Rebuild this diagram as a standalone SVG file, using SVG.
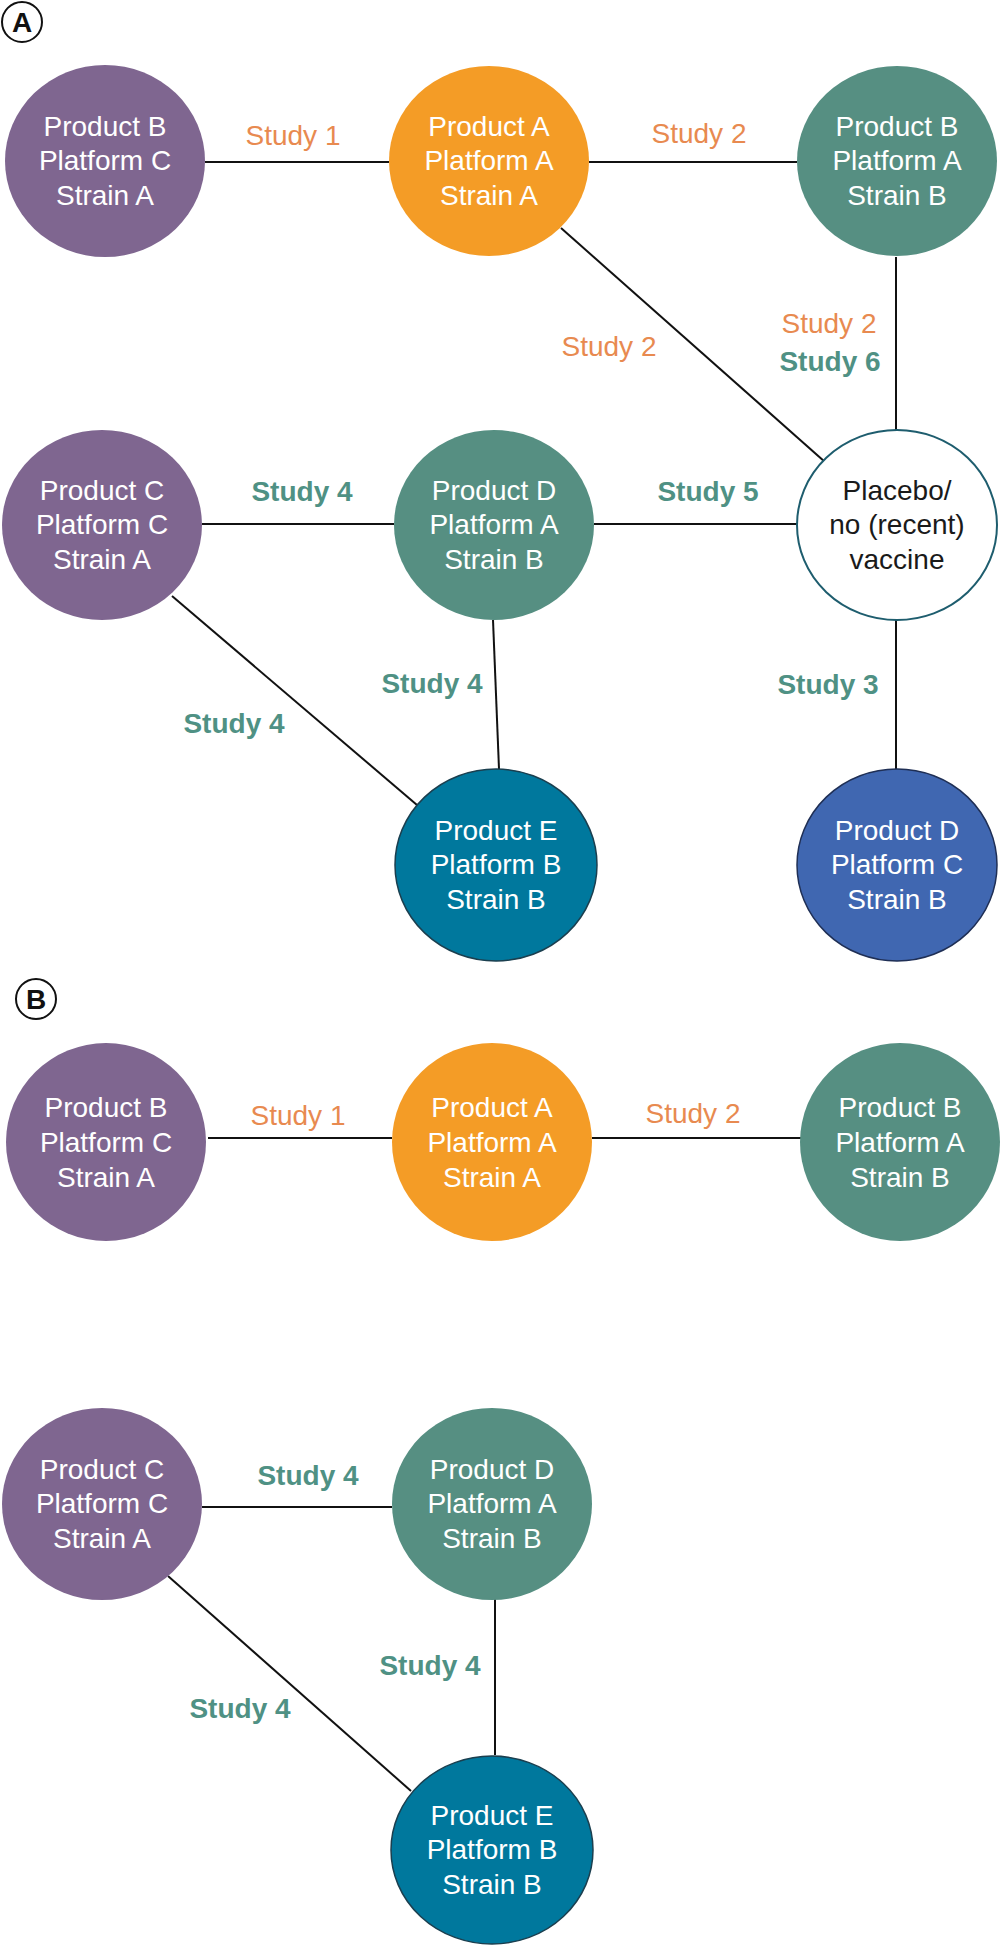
<svg xmlns="http://www.w3.org/2000/svg" width="1004" height="1945" viewBox="0 0 1004 1945">
<style>
.bg{fill:#ffffff}
.node text{font-family:"Liberation Sans",Arial,sans-serif;font-size:28px;fill:#ffffff;text-anchor:middle}
.purple{fill:#7f6690}
.orange{fill:#f49c26}
.teal{fill:#568f82}
.tblue{fill:#00789d;stroke:#1b3f4f;stroke-width:1.5}
.blue{fill:#4067b1;stroke:#1f2f55;stroke-width:1.5}
.white{fill:#ffffff;stroke:#1e5d6e;stroke-width:2}
.node text.dark{fill:#1a1a1a}
.edges line{stroke:#111111;stroke-width:2}
.lbl{font-family:"Liberation Sans",Arial,sans-serif;font-size:28px;text-anchor:middle}
.lo{fill:#e88a50}
.lt{fill:#4f9184;font-weight:bold}
.panel circle{fill:none;stroke:#111111;stroke-width:2}
.panel text{font-family:"Liberation Sans",Arial,sans-serif;font-size:28px;font-weight:bold;fill:#111111;text-anchor:middle}
</style>
<rect class="bg" x="0" y="0" width="1004" height="1945"/>

<g id="panel-labels" class="panel">
<g id="label-A"><circle cx="22" cy="22" r="20"/><text x="22" y="32">A</text></g>
<g id="label-B"><circle cx="36" cy="999" r="20"/><text x="36" y="1009">B</text></g>
</g>

<g id="connectors" class="edges">
<line x1="205" y1="162" x2="389" y2="162"/>
<line x1="589" y1="162" x2="797" y2="162"/>
<line x1="561" y1="228" x2="825" y2="462"/>
<line x1="896" y1="257" x2="896" y2="430"/>
<line x1="202" y1="524" x2="394" y2="524"/>
<line x1="594" y1="524" x2="797" y2="524"/>
<line x1="172" y1="596" x2="417" y2="805"/>
<line x1="493" y1="620" x2="499" y2="769"/>
<line x1="896" y1="620" x2="896" y2="769"/>
<line x1="208" y1="1138" x2="392" y2="1138"/>
<line x1="592" y1="1138" x2="802" y2="1138"/>
<line x1="202" y1="1507" x2="392" y2="1507"/>
<line x1="495" y1="1598" x2="495" y2="1755"/>
<line x1="168" y1="1576" x2="411" y2="1791"/>
</g>

<g id="edge-labels" class="lbl">
<text class="lo" x="293" y="145">Study 1</text>
<text class="lo" x="699" y="143">Study 2</text>
<text class="lo" x="609" y="356">Study 2</text>
<text class="lo" x="829" y="333">Study 2</text>
<text class="lt" x="830" y="371">Study 6</text>
<text class="lt" x="302" y="501">Study 4</text>
<text class="lt" x="708" y="501">Study 5</text>
<text class="lt" x="432" y="693">Study 4</text>
<text class="lt" x="234" y="733">Study 4</text>
<text class="lt" x="828" y="694">Study 3</text>
<text class="lo" x="298" y="1125">Study 1</text>
<text class="lo" x="693" y="1123">Study 2</text>
<text class="lt" x="308" y="1485">Study 4</text>
<text class="lt" x="430" y="1675">Study 4</text>
<text class="lt" x="240" y="1718">Study 4</text>
</g>

<g id="n1" class="node"><ellipse class="purple" cx="105" cy="161" rx="100" ry="96"/><text x="105" y="136">Product B</text><text x="105" y="170">Platform C</text><text x="105" y="205">Strain A</text></g>
<g id="n2" class="node"><ellipse class="orange" cx="489" cy="161" rx="100" ry="95"/><text x="489" y="136">Product A</text><text x="489" y="170">Platform A</text><text x="489" y="205">Strain A</text></g>
<g id="n3" class="node"><ellipse class="teal" cx="897" cy="161" rx="100" ry="95"/><text x="897" y="136">Product B</text><text x="897" y="170">Platform A</text><text x="897" y="205">Strain B</text></g>
<g id="n4" class="node"><ellipse class="purple" cx="102" cy="525" rx="100" ry="95"/><text x="102" y="500">Product C</text><text x="102" y="534">Platform C</text><text x="102" y="569">Strain A</text></g>
<g id="n5" class="node"><ellipse class="teal" cx="494" cy="525" rx="100" ry="95"/><text x="494" y="500">Product D</text><text x="494" y="534">Platform A</text><text x="494" y="569">Strain B</text></g>
<g id="n6" class="node"><ellipse class="white" cx="897" cy="525" rx="100" ry="95"/><text class="dark" x="897" y="500">Placebo/</text><text class="dark" x="897" y="534">no (recent)</text><text class="dark" x="897" y="569">vaccine</text></g>
<g id="n7" class="node"><ellipse class="tblue" cx="496" cy="865" rx="101" ry="96"/><text x="496" y="840">Product E</text><text x="496" y="874">Platform B</text><text x="496" y="909">Strain B</text></g>
<g id="n8" class="node"><ellipse class="blue" cx="897" cy="865" rx="100" ry="96"/><text x="897" y="840">Product D</text><text x="897" y="874">Platform C</text><text x="897" y="909">Strain B</text></g>

<g id="n9" class="node"><ellipse class="purple" cx="106" cy="1142" rx="100" ry="99"/><text x="106" y="1117">Product B</text><text x="106" y="1152">Platform C</text><text x="106" y="1187">Strain A</text></g>
<g id="n10" class="node"><ellipse class="orange" cx="492" cy="1142" rx="100" ry="99"/><text x="492" y="1117">Product A</text><text x="492" y="1152">Platform A</text><text x="492" y="1187">Strain A</text></g>
<g id="n11" class="node"><ellipse class="teal" cx="900" cy="1142" rx="100" ry="99"/><text x="900" y="1117">Product B</text><text x="900" y="1152">Platform A</text><text x="900" y="1187">Strain B</text></g>
<g id="n12" class="node"><ellipse class="purple" cx="102" cy="1504" rx="100" ry="96"/><text x="102" y="1479">Product C</text><text x="102" y="1513">Platform C</text><text x="102" y="1548">Strain A</text></g>
<g id="n13" class="node"><ellipse class="teal" cx="492" cy="1504" rx="100" ry="96"/><text x="492" y="1479">Product D</text><text x="492" y="1513">Platform A</text><text x="492" y="1548">Strain B</text></g>
<g id="n14" class="node"><ellipse class="tblue" cx="492" cy="1850" rx="101" ry="94"/><text x="492" y="1825">Product E</text><text x="492" y="1859">Platform B</text><text x="492" y="1894">Strain B</text></g>
</svg>
